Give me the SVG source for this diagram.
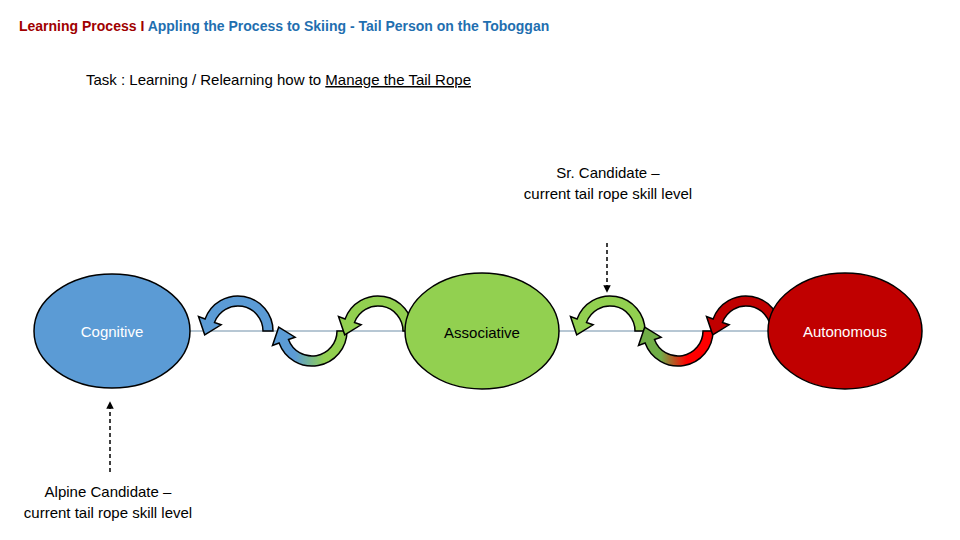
<svg xmlns="http://www.w3.org/2000/svg" width="960" height="540" viewBox="0 0 960 540">
<style>
text{font-family:"Liberation Sans","DejaVu Sans",sans-serif;}
.arr{stroke:#000;stroke-width:1.5}
.lbl{font-size:15px;fill:#000}
.node{font-size:15px}
</style>
<defs>
<path id="ca" d="M 35 0 A 35 35 0 0 0 -32.9 -12.0 L -39.5 -14.4 L -33.3 3.8 L -16.9 -6.2 L -23.5 -8.55 A 25 25 0 0 1 25 0 Z"/>
<linearGradient id="bg" x1="0" y1="0" x2="1" y2="0"><stop offset="0.3" stop-color="#5b9bd5"/><stop offset="0.7" stop-color="#92d050"/></linearGradient>
<linearGradient id="gr" x1="0" y1="0" x2="1" y2="0"><stop offset="0.3" stop-color="#70ad47"/><stop offset="0.65" stop-color="#ff0000"/></linearGradient>
<marker id="ah" viewBox="0 0 10 10" refX="9" refY="5" markerWidth="5" markerHeight="5" orient="auto"><path d="M0 0 L10 5 L0 10 Z" fill="#000"/></marker>
</defs>
<text x="19" y="31" font-size="14" font-weight="bold"><tspan fill="#a00000">Learning Process I </tspan><tspan fill="#1f6fb0">Appling the Process to Skiing - Tail Person on the Toboggan</tspan></text>
<text x="86" y="85" font-size="15">Task : Learning / Relearning how to <tspan text-decoration="underline">Manage the Tail Rope</tspan></text>
<g id="connectors">
<line x1="190" y1="331" x2="768" y2="331" stroke="#6f8fa8" stroke-width="1"/>
<use href="#ca" class="arr" fill="#5b9bd5" transform="translate(238,331)"/>
<use href="#ca" class="arr" fill="url(#bg)" transform="translate(312,331) scale(1,-1)"/>
<use href="#ca" class="arr" fill="#92d050" transform="translate(378,331)"/>
<use href="#ca" class="arr" fill="#92d050" transform="translate(610,331)"/>
<use href="#ca" class="arr" fill="url(#gr)" transform="translate(678,331) scale(1,-1)"/>
<use href="#ca" class="arr" fill="#c00000" transform="translate(746,331)"/>
<line x1="607" y1="243" x2="607" y2="292" stroke="#000" stroke-width="1.5" stroke-dasharray="4,3" marker-end="url(#ah)"/>
<line x1="110" y1="472" x2="110" y2="402" stroke="#000" stroke-width="1.5" stroke-dasharray="4,3" marker-end="url(#ah)"/>
</g>
<g id="cognitive"><ellipse cx="112" cy="331" rx="78" ry="57" fill="#5b9bd5" stroke="#000" stroke-width="1.5"/><text x="112" y="337" text-anchor="middle" class="node" fill="#fff">Cognitive</text></g>
<g id="associative"><ellipse cx="482" cy="331" rx="77" ry="58" fill="#92d050" stroke="#000" stroke-width="1.5"/><text x="482" y="338" text-anchor="middle" class="node" fill="#000">Associative</text></g>
<g id="autonomous"><ellipse cx="845" cy="331" rx="77" ry="58" fill="#c00000" stroke="#000" stroke-width="1.5"/><text x="845" y="337" text-anchor="middle" class="node" fill="#fff">Autonomous</text></g>
<g id="sr"><text x="608" y="178" text-anchor="middle" class="lbl">Sr. Candidate –</text><text x="608" y="199" text-anchor="middle" class="lbl">current tail rope skill level</text></g>
<g id="alpine"><text x="108" y="497" text-anchor="middle" class="lbl">Alpine Candidate –</text><text x="108" y="518" text-anchor="middle" class="lbl">current tail rope skill level</text></g>
</svg>
